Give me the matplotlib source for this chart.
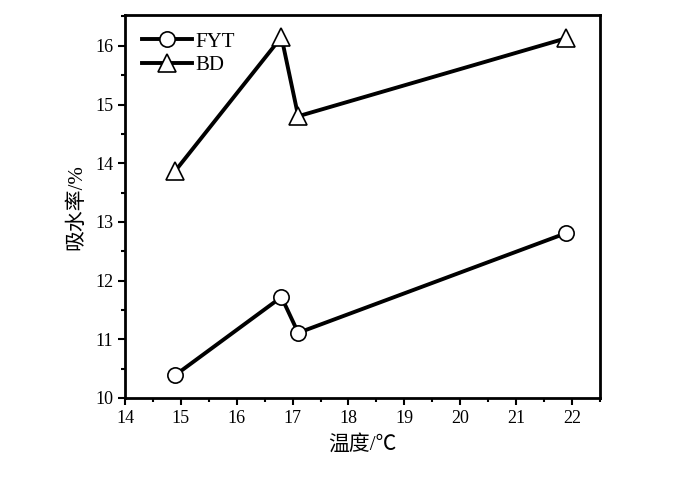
import numpy as np
import matplotlib.pyplot as plt
from matplotlib.ticker import MultipleLocator

plt.rcParams['font.family'] = ['Liberation Serif', 'Noto Sans CJK SC']

temp = [14.9, 16.8, 17.1, 21.9]
fyt = [10.39, 11.72, 11.11, 12.81]
bd = [13.87, 16.15, 14.80, 16.13]

fig = plt.figure(figsize=(7, 4.9), dpi=100)
ax = fig.add_axes([0.1786, 0.1878, 0.6784, 0.781])

ax.plot(temp, fyt, color='black', lw=2.8, marker='o', ms=11,
        mfc='white', mec='black', mew=1.2, label='FYT')
ax.plot(temp, bd, color='black', lw=2.8, marker='^', ms=13,
        mfc='white', mec='black', mew=1.2, label='BD')

ax.set_xlim(14, 22.5)
ax.set_ylim(10, 16.52)
ax.xaxis.set_major_locator(MultipleLocator(1))
ax.xaxis.set_minor_locator(MultipleLocator(0.5))
ax.yaxis.set_major_locator(MultipleLocator(1))
ax.yaxis.set_minor_locator(MultipleLocator(0.5))
ax.tick_params(which='major', direction='out', length=5, width=1.5, labelsize=13)
ax.tick_params(which='minor', direction='out', length=3, width=1.5)
for s in ax.spines.values():
    s.set_linewidth(2)

ax.set_xlabel('温度/℃', fontsize=15, labelpad=6)
ax.set_ylabel('吸水率/%', fontsize=15, labelpad=6)

ax.legend(loc='upper left', frameon=False, fontsize=15, handlelength=2.4,
          handletextpad=0.2, borderaxespad=0.4, labelspacing=0.2)

fig.savefig('out.png')
